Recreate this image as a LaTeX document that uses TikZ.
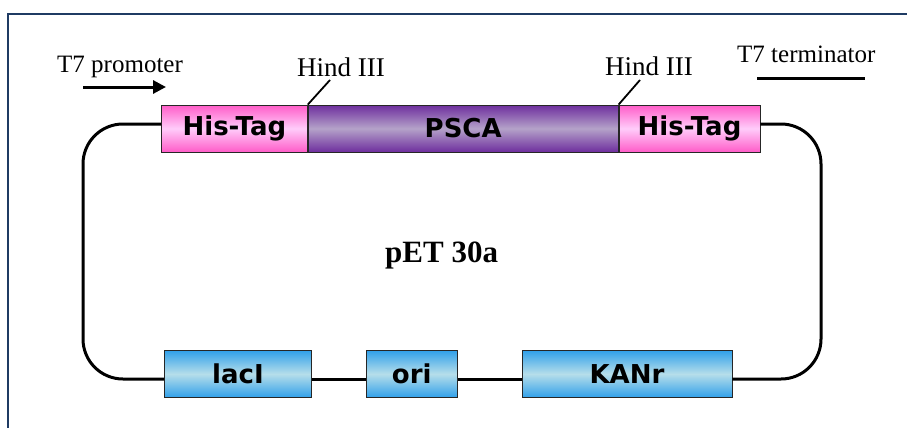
\documentclass[tikz,border=0pt]{standalone}
\usepackage{fontspec}
\setmainfont{Liberation Serif}
\newfontfamily\genefont{DejaVu Sans}
\usetikzlibrary{arrows.meta,positioning}
\definecolor{quadro}{HTML}{1F3B63}
\definecolor{rosa}{HTML}{FF5CC8}
\definecolor{rosaclaro}{HTML}{FFCCFA}
\definecolor{roxo}{HTML}{6E2E9E}
\definecolor{roxoclaro}{HTML}{B4A2C9}
\definecolor{azul}{HTML}{30A0EA}
\definecolor{azulclaro}{HTML}{B6DEEA}
\newcommand{\liga}{\draw[line width=3pt]}
\newcommand{\seta}{\draw[-{Triangle[length=13pt,width=13pt]},line width=3pt]}

\begin{document}
\begin{tikzpicture}[x=1pt,y=-1pt,node distance=0pt,
    gene/.style={draw=black!85,line width=0.8pt,inner sep=0pt,minimum height=47pt,
      font=\genefont\bfseries\fontsize{26}{30}\selectfont},
    tag/.style={gene,top color=rosa,bottom color=rosa,middle color=rosaclaro},
    alvo/.style={gene,top color=roxo,bottom color=roxo,middle color=roxoclaro},
    marca/.style={gene,top color=azul,bottom color=azul,middle color=azulclaro},
    rotulo/.style={inner sep=0pt,anchor=base west,font=\fontsize{25}{30}\selectfont}]
      \useasboundingbox (0,0) rectangle (907,428);
      \draw[quadro,line width=2pt] (8,428) -- (8,14) -- (907,14);

      % inserto
      \node(his1) [tag,minimum width=146pt,anchor=west] at (161,128.5) {His-Tag};
      \node(psca) [alvo,minimum width=310pt,right=of his1]           {PSCA};
      \node(his2) [tag,minimum width=141pt,right=of psca]            {His-Tag};

      % vetor
      \node(lac)  [marca,minimum width=147pt,anchor=west] at (164,374) {lacI};
      \node(ori)  [marca,minimum width=91pt,right=54pt of lac]         {ori};
      \node(kan)  [marca,minimum width=210pt,right=64pt of ori]        {KANr};

      \coordinate(ce) at (83,124);
      \coordinate(be) at (83,379);
      \coordinate(bd) at (821,379);
      \coordinate(cd) at (821,124);

      \liga[rounded corners=40pt] (his1.west |- ce) -- (ce) -- (be) -- (lac.west |- be);
      \liga(lac.east |- be) -- (ori.west |- be);
      \liga(ori.east |- be) -- (kan.west |- be);
      \liga[rounded corners=40pt] (kan.east |- bd) -- (bd) -- (cd) -- (his2.east |- cd);

      % textos
      \node(prom)  [rotulo] at (57,73)  {T7 promoter};
      \node(hindE) [rotulo,font=\fontsize{27}{30}\selectfont] at (297,77) {Hind III};
      \node(hindD) [rotulo,font=\fontsize{27}{30}\selectfont] at (605,75) {Hind III};
      \node(term)  [rotulo] at (737,63) {T7 terminator};
      \node(pet)   [rotulo,font=\bfseries\fontsize{31}{36}\selectfont] at (385,262) {pET 30a};

      \coordinate(pa) at (83,87);
      \coordinate(pb) at (166,87);
      \coordinate(ta) at (757,78);
      \coordinate(tb) at (865,78);
      \coordinate(hE) at (330,80);
      \coordinate(hD) at (640,80);

      \seta(pa) -- (pb);
      \liga(ta) -- (tb);
      \draw[line width=1.8pt] (hE) -- (psca.north west);
      \draw[line width=1.8pt] (hD) -- (his2.north west);
\end{tikzpicture}
\end{document}
